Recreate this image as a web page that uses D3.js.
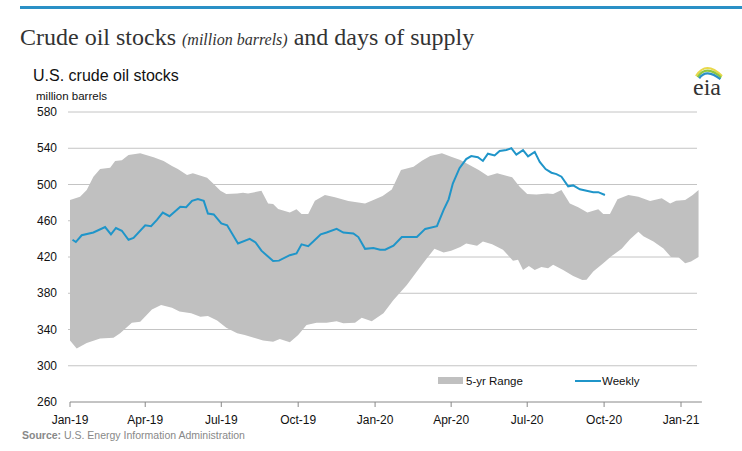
<!DOCTYPE html>
<html>
<head>
<meta charset="utf-8">
<script src="https://cdn.jsdelivr.net/npm/d3@7"></script>
<style>
  body { margin: 0; background: #fff; }
  text { font-family: "Liberation Sans", Arial, sans-serif; }
</style>
</head>
<body>
<svg id="chart" width="742" height="451"></svg>
<script>
// days since 2019-01-01 and values
const weeklyDays = [3, 7, 14, 28, 42, 49, 55, 62, 70, 76, 90, 97, 104, 111, 119, 132, 139, 146, 153, 160,
  165, 172, 181, 188, 201, 215, 222, 229, 243, 250, 263, 271, 277, 285, 291, 300, 307, 319, 327, 339,
  345, 353, 363, 371, 377, 387, 397, 415, 425, 439, 447, 453, 458, 466, 474, 480, 488, 494, 500, 508,
  514, 522, 528, 534, 542, 548, 556, 562, 569, 576, 582, 588, 596, 602, 610, 618, 626, 632, 640];
const weeklyValues = [439, 436.5, 444, 447, 453, 445, 452, 449, 439, 441, 455, 454, 461, 469, 465, 475.5, 475, 482, 484, 482,
  468, 467, 457, 455, 435, 440, 436, 427, 415.5, 416, 422, 424, 434, 432, 437, 445, 447, 451, 447, 446,
  442, 429, 430, 428, 428, 432.5, 442, 442, 451, 454, 472, 483.6, 501, 518, 528, 531.4, 530, 526, 534, 532,
  537, 538, 540, 533, 538, 531, 536, 525, 517, 513, 511.5, 508.6, 498, 499, 494.7, 493, 491.4, 491.5, 488.4];

const upperDays = [0, 12, 20, 28, 36, 48, 54, 62, 70, 84, 100, 112, 122, 129, 140, 147, 164, 171, 180, 187,
  200, 207, 213, 229, 237, 243, 249, 263, 271, 277, 285, 293, 305, 317, 333, 353, 363, 374, 385, 396,
  411, 421, 431, 445, 456, 467, 478, 489, 500, 511, 529, 538, 547, 558, 571, 578, 588, 598, 608, 619,
  632, 638, 646, 655, 668, 680, 694, 708, 718, 725, 736, 745, 752];
const upperValues = [483, 486.5, 494, 508.6, 517, 518.6, 526, 526.7, 532.5, 534.4, 530, 526, 520.4, 517, 510.5, 512.3, 507.5, 501.3, 493, 489.5,
  490, 491, 490, 493, 479, 478.5, 473, 469, 472.6, 467.4, 467.4, 482, 488.4, 485.8, 481.8, 479, 483, 487.3, 494.6, 516,
  519.7, 526.3, 531.4, 534.4, 530.7, 527, 521.5, 516, 509.4, 512.3, 508, 497.6, 489.5, 489, 490.2, 489.5, 494, 479, 474.8, 469,
  472.6, 467.4, 467.4, 483.6, 488.4, 486.5, 481.8, 484.7, 479, 482, 483, 488.4, 494];

const lowerDays = [0, 8, 20, 36, 52, 60, 74, 84, 98, 109, 122, 131, 145, 156, 165, 176, 187, 200, 209, 220,
  231, 243, 251, 263, 273, 283, 295, 307, 319, 327, 341, 349, 361, 375, 387, 403, 415, 427, 436, 447,
  456, 467, 474, 487, 494, 505, 518, 530, 536, 542, 549, 556, 564, 572, 578, 590, 602, 613, 618, 626,
  638, 648, 660, 670, 680, 686, 698, 710, 719, 728, 736, 743, 752];
const lowerValues = [328, 319, 325, 330, 331, 336, 347.5, 348.6, 362, 367, 364, 360, 358, 354, 355, 350, 342, 336, 334, 331,
  328, 326.5, 329.5, 326, 334, 345, 347.5, 347.5, 349, 347, 347.5, 353, 349, 358, 372.5, 389, 404, 418.5, 429, 425,
  427, 431, 435, 432.5, 437, 434, 428, 416, 417, 405.6, 410, 405.6, 409, 407.5, 411.5, 405.6, 399, 394.6, 395, 404,
  413, 421, 429, 439.5, 448, 443, 437, 429.5, 420, 419.6, 413, 415, 420];

const yTicks = [260, 300, 340, 380, 420, 460, 500, 540, 580];
const xTickDates = ["2019-01-01", "2019-04-01", "2019-07-01", "2019-10-01", "2020-01-01",
  "2020-04-01", "2020-07-01", "2020-10-01", "2021-01-01"];

const svg = d3.select("#chart");
const start = new Date(2019, 0, 1);
const toDate = d => d3.timeDay.offset(start, d);
const fmt = d3.timeFormat("%b-%y");

const x = d3.scaleTime()
  .domain([start, new Date(2021, 0, 1)])
  .range([70, 681]);
const y = d3.scaleLinear().domain([260, 580]).range([402, 112]);
const xEnd = x(toDate(756));

// header
svg.append("rect").attr("x", 20).attr("y", 6).attr("width", 722).attr("height", 3).attr("fill", "#2a90c6");
const title = svg.append("text").attr("x", 20).attr("y", 45)
  .style("font-family", "'Liberation Serif', 'Times New Roman', serif").style("font-size", "24px").attr("fill", "#333");
title.append("tspan").text("Crude oil stocks ");
title.append("tspan").style("font-style", "italic").style("font-size", "16px").text("(million barrels)");
title.append("tspan").text(" and days of supply");

svg.append("text").attr("x", 33).attr("y", 81).style("font-size", "16px").attr("fill", "#111").text("U.S. crude oil stocks");
svg.append("text").attr("x", 36).attr("y", 100).style("font-size", "11.5px").attr("fill", "#111").text("million barrels");

// eia logo
const logo = svg.append("g");
const arcs = [["#e8d84a", 0], ["#8cc63f", 4], ["#2a90c6", 8]];
arcs.forEach(([c, o]) => {
  logo.append("path")
    .attr("d", `M${696 + o * 0.4},${76 + o * 0.3} Q${706},${60 + o} ${722 - o * 0.2},${76 + o * 0.4}`)
    .attr("fill", "none").attr("stroke", c).attr("stroke-width", 2.2);
});
logo.append("text").attr("x", 693).attr("y", 95)
  .style("font-family", "'Liberation Serif', serif").style("font-size", "24px").attr("fill", "#333").text("eia");

// gridlines + y labels
svg.append("g").selectAll("line").data(yTicks.filter(t => t > 260)).join("line")
  .attr("x1", 68).attr("x2", 697).attr("y1", d => y(d)).attr("y2", d => y(d))
  .attr("stroke", "#c4c4c4").attr("stroke-width", 1);
svg.append("g").selectAll("text").data(yTicks).join("text")
  .attr("x", 57).attr("y", d => y(d) + 4).attr("text-anchor", "end")
  .style("font-size", "12px").attr("fill", "#111").text(d => d);

// 5-yr range band
const band = upperDays.map((d, i) => [d, upperValues[i]])
  .concat(lowerDays.map((d, i) => [d, lowerValues[i]]).reverse());
svg.append("path")
  .attr("d", d3.line().x(p => x(toDate(p[0]))).y(p => y(p[1]))(band) + "Z")
  .attr("fill", "#c0c0c0");

// weekly line
svg.append("path")
  .datum(weeklyDays.map((d, i) => [d, weeklyValues[i]]))
  .attr("d", d3.line().x(p => x(toDate(p[0]))).y(p => y(p[1])))
  .attr("fill", "none").attr("stroke", "#1f95c9").attr("stroke-width", 2);

// x axis
svg.append("line").attr("x1", 70).attr("x2", xEnd).attr("y1", 402).attr("y2", 402)
  .attr("stroke", "#888");
const ticks = xTickDates.map(s => d3.timeParse("%Y-%m-%d")(s));
svg.append("g").selectAll("line").data(ticks).join("line")
  .attr("x1", d => x(d)).attr("x2", d => x(d)).attr("y1", 402).attr("y2", 407).attr("stroke", "#888");
svg.append("g").selectAll("text").data(ticks).join("text")
  .attr("x", d => x(d)).attr("y", 424).attr("text-anchor", "middle")
  .style("font-size", "12px").attr("fill", "#111").text(d => fmt(d));

// legend
svg.append("rect").attr("x", 438).attr("y", 377).attr("width", 25).attr("height", 7).attr("fill", "#c0c0c0");
svg.append("text").attr("x", 466).attr("y", 385).style("font-size", "11.5px").attr("fill", "#111").text("5-yr Range");
svg.append("line").attr("x1", 575).attr("x2", 601).attr("y1", 381).attr("y2", 381)
  .attr("stroke", "#1f95c9").attr("stroke-width", 2);
svg.append("text").attr("x", 602).attr("y", 385).style("font-size", "11.5px").attr("fill", "#111").text("Weekly");

// source
const src = svg.append("text").attr("x", 22).attr("y", 439).style("font-size", "10.5px").attr("fill", "#888");
src.append("tspan").style("font-weight", "bold").text("Source:");
src.append("tspan").text(" U.S. Energy Information Administration");
</script>
</body>
</html>
